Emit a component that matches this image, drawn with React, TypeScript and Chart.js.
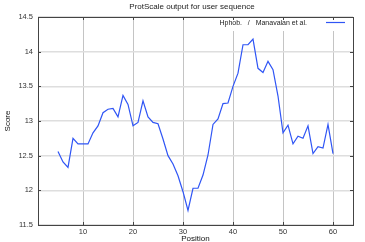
import React, { useEffect, useRef } from "react";
import { Chart, registerables } from "chart.js";

Chart.register(...registerables);

const positions: number[] = [
  5, 6, 7, 8, 9, 10, 11, 12, 13, 14, 15, 16, 17, 18, 19, 20, 21, 22, 23, 24, 25, 26, 27, 28, 29, 30,
  31, 32, 33, 34, 35, 36, 37, 38, 39, 40, 41, 42, 43, 44, 45, 46, 47, 48, 49, 50, 51, 52, 53, 54, 55,
  56, 57, 58, 59, 60,
];
const scores: number[] = [
  12.56, 12.41, 12.33, 12.75, 12.67, 12.67, 12.67, 12.83, 12.93, 13.12, 13.17, 13.18, 13.06, 13.37,
  13.24, 12.93, 12.98, 13.29, 13.06, 12.98, 12.96, 12.74, 12.5, 12.38, 12.21, 11.98, 11.71, 12.03,
  12.03, 12.22, 12.51, 12.95, 13.03, 13.25, 13.26, 13.5, 13.69, 14.1, 14.1, 14.18, 13.76, 13.7,
  13.86, 13.74, 13.36, 12.83, 12.94, 12.67, 12.78, 12.75, 12.93, 12.53, 12.63, 12.61, 12.95, 12.53,
];
const xTicks: number[] = [10, 20, 30, 40, 50, 60];
const yTicks: number[] = [11.5, 12, 12.5, 13, 13.5, 14, 14.5];
const titleText = "ProtScale output for user sequence";
const legendText = "Hphob.   /   Manavalan et al.";
const xTitle = "Position";
const yTitle = "Score";

const FONT = "'Liberation Sans', Arial, sans-serif";
const LINE_COLOR = "#2f55f5";

const decorPlugin = {
  id: "decor",
  beforeDatasetsDraw(chart: any) {
    const { ctx, chartArea } = chart;
    ctx.save();
    ctx.fillStyle = "#fff";
    ctx.fillRect(219, chartArea.top + 1, 133, 13);
    ctx.restore();
  },
  afterDraw(chart: any) {
    const { ctx, chartArea } = chart;
    const { left, right, top, bottom } = chartArea;
    const xs = chart.scales.x;
    const ys = chart.scales.y;
    ctx.save();
    // frame
    ctx.strokeStyle = "#444";
    ctx.lineWidth = 1;
    ctx.strokeRect(Math.round(left) + 0.5, Math.round(top) + 0.5, Math.round(right - left), Math.round(bottom - top));
    // inward ticks
    ctx.beginPath();
    for (const v of xTicks) {
      const px = Math.round(xs.getPixelForValue(v)) + 0.5;
      ctx.moveTo(px, bottom);
      ctx.lineTo(px, bottom - 3);
      ctx.moveTo(px, top);
      ctx.lineTo(px, top + 3);
    }
    for (const v of yTicks) {
      const py = Math.round(ys.getPixelForValue(v)) + 0.5;
      ctx.moveTo(left, py);
      ctx.lineTo(left + 3, py);
      ctx.moveTo(right, py);
      ctx.lineTo(right - 3, py);
    }
    ctx.stroke();
    // title
    ctx.fillStyle = "#222";
    ctx.font = `8px ${FONT}`;
    ctx.textAlign = "center";
    ctx.textBaseline = "middle";
    ctx.fillText(titleText, 192, 7);
    // legend
    ctx.textAlign = "right";
    ctx.font = `7px ${FONT}`;
    ctx.fillText(legendText, 307, 23);
    ctx.strokeStyle = LINE_COLOR;
    ctx.lineWidth = 1.2;
    ctx.beginPath();
    ctx.moveTo(326, 22.5);
    ctx.lineTo(345, 22.5);
    ctx.stroke();
    // axis titles
    ctx.fillStyle = "#111";
    ctx.font = `8px ${FONT}`;
    ctx.textAlign = "center";
    ctx.fillText(xTitle, (left + right) / 2, 238.5);
    ctx.save();
    ctx.translate(8, (top + bottom) / 2);
    ctx.rotate(-Math.PI / 2);
    ctx.fillText(yTitle, 0, 0);
    ctx.restore();
    ctx.restore();
  },
};

export default function App() {
  const ref = useRef<HTMLCanvasElement | null>(null);
  useEffect(() => {
    document.body.style.margin = "0";
    const canvas = ref.current;
    if (!canvas) return;
    const chart = new Chart(canvas, {
      type: "line",
      data: {
        datasets: [
          {
            label: legendText,
            data: positions.map((p, i) => ({ x: p, y: scores[i] })),
            borderColor: LINE_COLOR,
            borderWidth: 1.2,
            pointRadius: 0,
            tension: 0,
            fill: false,
          },
        ],
      },
      options: {
        animation: false,
        responsive: false,
        devicePixelRatio: 1,
        layout: { padding: { top: 17, right: 12, left: 0, bottom: 0 } },
        plugins: { legend: { display: false }, title: { display: false }, tooltip: { enabled: false } },
        scales: {
          x: {
            type: "linear",
            min: 1,
            max: 64,
            afterBuildTicks: (s: any) => {
              s.ticks = xTicks.map((v) => ({ value: v }));
            },
            afterFit: (s: any) => {
              s.height = 17;
            },
            grid: { color: "#c4c4c4", lineWidth: 1, drawTicks: false },
            border: { display: false },
            ticks: { font: { size: 7.5, family: FONT }, color: "#333", padding: 2, maxRotation: 0 },
          },
          y: {
            type: "linear",
            min: 11.5,
            max: 14.5,
            afterBuildTicks: (s: any) => {
              s.ticks = yTicks.map((v) => ({ value: v }));
            },
            afterFit: (s: any) => {
              s.width = 38;
            },
            grid: { color: "#dedede", lineWidth: 1.5, drawTicks: false },
            border: { display: false },
            ticks: {
              font: { size: 7.5, family: FONT },
              color: "#333",
              padding: 5,
              callback: (v: any) => String(v),
            },
          },
        },
      },
      plugins: [decorPlugin],
    });
    return () => chart.destroy();
  }, []);
  return (
    <div style={{ position: "fixed", left: 0, top: 0, width: 365, height: 242, background: "#fff" }}>
      <canvas ref={ref} width={365} height={242} style={{ width: 365, height: 242 }} />
    </div>
  );
}
